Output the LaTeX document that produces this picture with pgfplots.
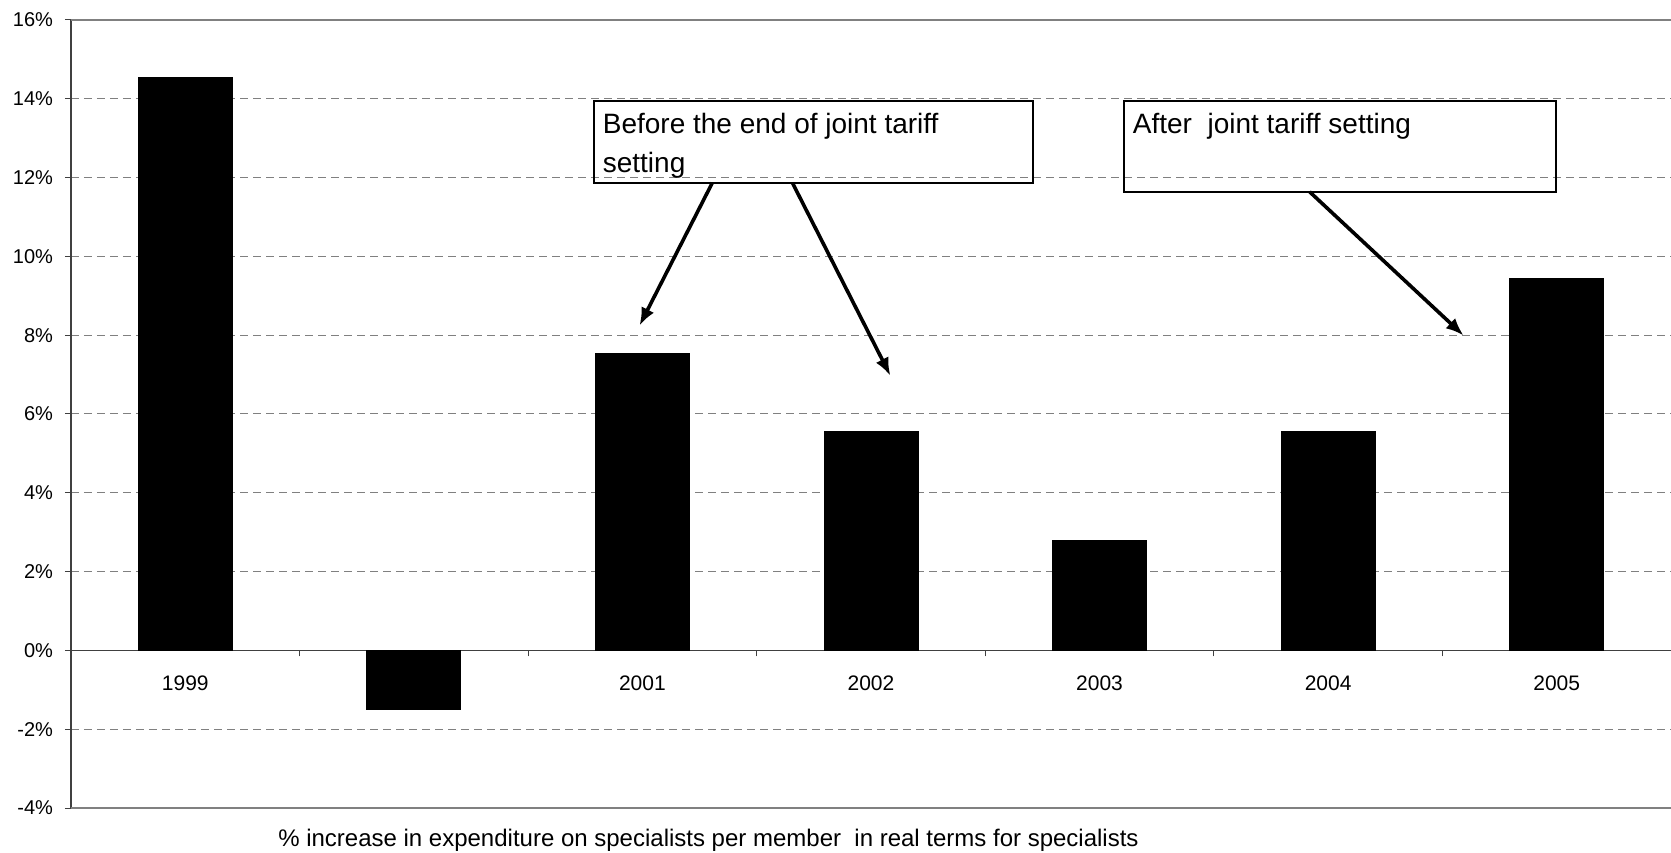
\documentclass[border=0pt]{standalone}
\usepackage{fontspec}
\setmainfont{Liberation Sans}
\usepackage{pgfplots}
\pgfplotsset{compat=1.18}
\usetikzlibrary{arrows.meta}
\definecolor{gridgray}{HTML}{808080}
\definecolor{axisdark}{HTML}{404040}
\begin{document}
\begin{tikzpicture}
\begin{axis}[
  scale only axis,
  width=800pt, height=394pt,
  xmin=-0.5, xmax=6.5, ymin=-4, ymax=16,
  axis x line*=middle,
  axis y line*=left,
  ybar, bar width=47pt,
  ytick={-4,-2,...,16},
  yticklabel={\pgfmathprintnumber[assume math mode=true]{\tick}\%},
  ymajorgrids,
  y grid style={gridgray, line width=0.5pt, dash pattern=on 4pt off 2.5pt},
  xtick={0,...,6},
  xticklabels={1999,,2001,2002,2003,2004,2005},
  minor xtick={0.5,1.5,...,5.5},
  major x tick style={draw=none},
  minor x tick style={axisdark, line width=0.5pt},
  major y tick style={axisdark, line width=0.5pt},
  tick align=outside,
  minor tick length=3pt,
  major tick length=3pt,
  x axis line style={axisdark, line width=0.5pt},
  y axis line style={axisdark, line width=1pt},
  yticklabel style={font=\fontsize{10}{12}\selectfont, xshift=-2.5pt},
  xticklabel style={font=\fontsize{10.5}{12}\selectfont, yshift=-6pt},
  clip=false,
]
\addplot[fill=black, draw=black] coordinates {(0,14.55) (1,-1.5) (2,7.54) (3,5.56) (4,2.8) (5,5.56) (6,9.43)};
\draw[gridgray, line width=1pt] (rel axis cs:0,1) -- (rel axis cs:1,1);
\draw[gridgray, line width=1pt] (rel axis cs:0,0) -- (rel axis cs:1,0);
% text boxes
\draw[black, line width=1pt] (axis cs:1.79,13.95) rectangle (axis cs:3.707,11.87);
\draw[black, line width=1pt] (axis cs:4.109,13.95) rectangle (axis cs:5.996,11.64);
\node[anchor=north west, inner sep=0pt, xshift=4pt, yshift=-6pt, align=left, font=\fontsize{14}{19.3}\selectfont] at (axis cs:1.79,13.95) {Before the end of joint tariff\\setting};
\node[anchor=north west, inner sep=0pt, xshift=4pt, yshift=-6pt, align=left, font=\fontsize{14}{19.3}\selectfont] at (axis cs:4.109,13.95) {After\ \ joint tariff setting};
% arrows
\draw[line width=1.8pt, -{Latex[length=9pt,width=7pt]}] (axis cs:2.306,11.87) -- (axis cs:1.987,8.24);
\draw[line width=1.8pt, -{Latex[length=9pt,width=7pt]}] (axis cs:2.656,11.87) -- (axis cs:3.085,6.97);
\draw[line width=1.8pt, -{Latex[length=9pt,width=7pt]}] (axis cs:4.919,11.64) -- (axis cs:5.593,7.99);
\node[font=\fontsize{12}{14}\selectfont] at (rel axis cs:0.3984,0) [yshift=-16pt] {\% increase in expenditure on specialists per member\ \ in real terms for specialists};
\end{axis}
\pgfresetboundingbox
\path ([shift={(-35.5pt,-22pt)}]current axis.south west) rectangle ([shift={(0pt,10pt)}]current axis.north east);
\end{tikzpicture}
\end{document}
